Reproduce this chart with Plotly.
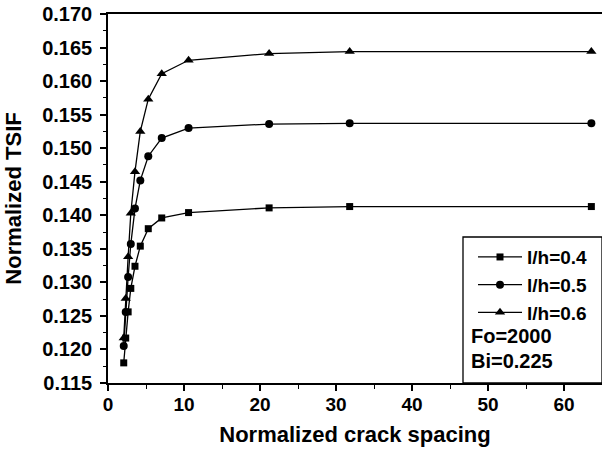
import plotly.graph_objects as go

# Normalized crack spacing (shared by all three crack depths)
spacing = [2.07, 2.33, 2.65, 3.0, 3.55, 4.25, 5.3, 7.07, 10.6, 21.2, 31.8, 63.6]

# Normalized TSIF for each crack depth ratio l/h
tsif_04 = [0.1180, 0.1217, 0.1256, 0.1291, 0.1324, 0.1354, 0.1380, 0.1396, 0.1404, 0.1411, 0.1413, 0.1413]
tsif_05 = [0.1205, 0.1256, 0.1308, 0.1357, 0.1410, 0.1452, 0.1488, 0.1515, 0.1530, 0.1536, 0.1537, 0.1537]
tsif_06 = [0.1217, 0.1276, 0.1338, 0.1403, 0.1465, 0.1525, 0.1573, 0.1611, 0.1631, 0.1641, 0.1644, 0.1644]

series_names = ["l/h=0.4", "l/h=0.5", "l/h=0.6"]
series_values = [tsif_04, tsif_05, tsif_06]
series_symbols = ["square", "circle", "triangle-up"]
series_sizes = [7, 8, 9]

parameter_notes = ["Fo=2000", "Bi=0.225"]

FONT = dict(family="Liberation Sans, Arial, sans-serif", color="black", weight="bold")

fig = go.Figure()
for name, vals, sym, sz in zip(series_names, series_values, series_symbols, series_sizes):
    fig.add_trace(go.Scatter(
        x=spacing, y=vals, name=name, mode="lines+markers",
        line=dict(color="black", width=1.3),
        marker=dict(symbol=sym, size=sz, color="black"),
    ))

# Plot-area geometry in pixels
W, H = 602, 449
L, R, T, B = 108, 0, 14, 66
pw, ph = W - L - R, H - T - B

def px_x(p):
    return (p - L) / pw

def px_y(p):
    return (H - B - p) / ph

box_left, box_top = 463, 237

fig.add_shape(type="rect", xref="paper", yref="paper",
              x0=px_x(box_left), x1=1.0, y0=0, y1=px_y(box_top),
              line=dict(color="black", width=1.3), fillcolor="rgba(0,0,0,0)")

for note, yc in zip(parameter_notes, [336, 361]):
    fig.add_annotation(xref="paper", yref="paper", x=px_x(469), y=px_y(yc),
                       xanchor="left", yanchor="middle", showarrow=False,
                       text=note, font=dict(FONT, size=20))

fig.update_layout(
    width=W, height=H,
    margin=dict(l=L, r=R, t=T, b=B, pad=0),
    paper_bgcolor="white", plot_bgcolor="white",
    font=dict(FONT, size=19),
    showlegend=True,
    legend=dict(
        x=px_x(473), y=px_y(box_top) - 0.003, xanchor="left", yanchor="top",
        bgcolor="rgba(0,0,0,0)", borderwidth=0,
        font=dict(FONT, size=19), itemwidth=44,
        tracegroupgap=0,
    ),
    xaxis=dict(
        range=[0, 65], dtick=10, tick0=0,
        showgrid=False, zeroline=False,
        showline=True, linecolor="black", linewidth=1.5, mirror=True,
        ticks="outside", ticklen=6, tickwidth=1.5, tickcolor="black",
        minor=dict(dtick=5, ticks="outside", ticklen=4, tickwidth=1.3, tickcolor="black"),
        tickfont=dict(FONT, size=19),
        ticklabelstandoff=-3,
        title=dict(text="Normalized crack spacing", font=dict(FONT, size=22), standoff=13),
    ),
    yaxis=dict(
        range=[0.115, 0.170], dtick=0.005, tick0=0.115, tickformat=".3f",
        showgrid=False, zeroline=False,
        showline=True, linecolor="black", linewidth=1.5, mirror=False,
        ticks="outside", ticklen=6, tickwidth=1.5, tickcolor="black",
        minor=dict(dtick=0.0025, ticks="outside", ticklen=3, tickwidth=1.3, tickcolor="black"),
        tickfont=dict(FONT, size=20),
        ticklabelstandoff=4,
        title=dict(text="Normalized TSIF", font=dict(FONT, size=22), standoff=14),
    ),
)

fig.write_html("out.html")
